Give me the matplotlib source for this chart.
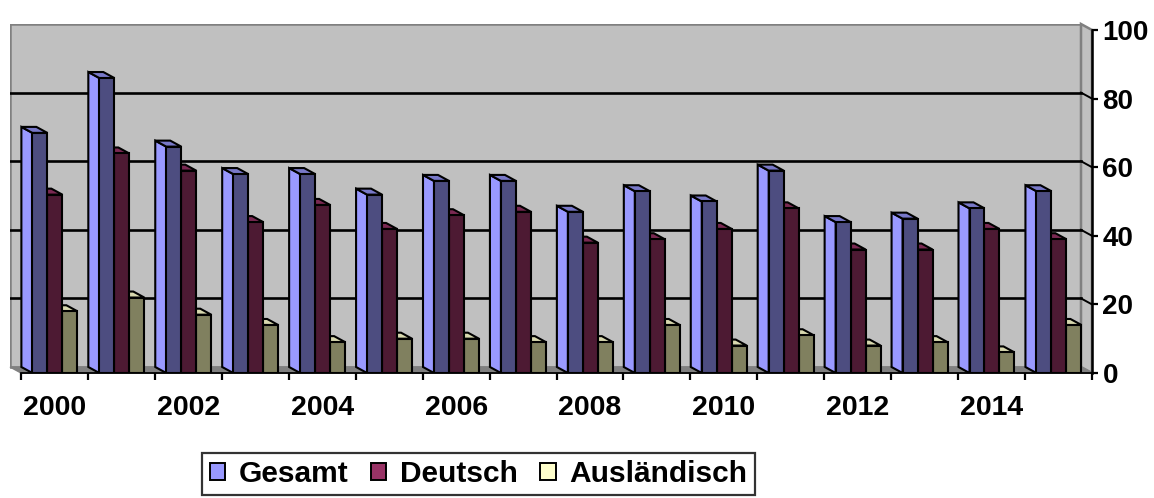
import matplotlib
matplotlib.use("Agg")
import matplotlib.pyplot as plt
from matplotlib.patches import Polygon, Patch
from matplotlib.font_manager import FontProperties

# ---- data ----
years = list(range(2000, 2016))
series_names = ["Gesamt", "Deutsch", "Ausländisch"]
gesamt = [70, 86, 66, 58, 58, 52, 56, 56, 47, 53, 50, 59, 44, 45, 48, 53]
deutsch = [52, 64, 59, 44, 49, 42, 46, 47, 38, 39, 42, 48, 36, 36, 42, 39]
auslaendisch = [18, 22, 17, 14, 9, 10, 10, 9, 9, 14, 8, 11, 8, 9, 6, 14]
y_ticks = [0, 20, 40, 60, 80, 100]
x_labels = [str(y) if y % 2 == 0 else "" for y in years]

# ---- style ----
base_cols = ["#9999FF", "#993366", "#FFFFCC"]
front_cols = ["#4D4D80", "#4D1A33", "#80805F"]
top_cols = ["#7878C8", "#7A2952", "#D8D8AE"]
side_cols = ["#9999FF", "#993366", "#FFFFCC"]

W, H, DPI = 1154, 498, 100
fig = plt.figure(figsize=(W / DPI, H / DPI), dpi=DPI)
fig.patch.set_facecolor("white")

n = len(years)
px_per_cat = (1092 - 21) / n
px_per_unit = 3.43
ddx = -11 / px_per_cat          # depth offset in data x
ddy = 6 / px_per_unit           # depth offset in data y
ymax = 100

left_px, right_px = 21 + ddx * px_per_cat, 1092
bottom_px = 373
top_px = bottom_px - (ymax + ddy) * px_per_unit
ax = fig.add_axes([left_px / W, (H - bottom_px) / H,
                   (right_px - left_px) / W, (bottom_px - top_px) / H])
ax.set_xlim(ddx, n)
ax.set_ylim(0, ymax + ddy)
ax.patch.set_visible(False)

font_bold = "Liberation Sans"
elw = 1.5

# back wall
ax.add_patch(Polygon([(ddx, ddy), (n + ddx, ddy), (n + ddx, ymax + ddy), (ddx, ymax + ddy)],
                     closed=True, facecolor="#C0C0C0", edgecolor="#808080", lw=1.8, zorder=1))
# right side wall
ax.add_patch(Polygon([(n + ddx, ddy), (n, 0), (n, ymax), (n + ddx, ymax + ddy)],
                     closed=True, facecolor="#C0C0C0", edgecolor="#808080", lw=1.8, zorder=1,
                     clip_on=False))
# floor
ax.add_patch(Polygon([(0, 0), (n, 0), (n + ddx, ddy), (ddx, ddy)],
                     closed=True, facecolor="#808080", edgecolor="#808080", lw=1.0, zorder=1.2,
                     clip_on=False))
# gridlines on back wall and side wall
for v in y_ticks[1:-1]:
    ax.plot([ddx, n + ddx], [v + ddy, v + ddy], color="black", lw=1.9, zorder=1.5)
    ax.plot([n + ddx, n], [v + ddy, v], color="black", lw=1.4, zorder=1.5, clip_on=False)

# bars
bw = 0.224
off = 0.17
all_vals = [gesamt, deutsch, auslaendisch]
xs = list(range(n))
for k in reversed(range(3)):
    z = 3 + (2 - k)
    xpos = [x + off + k * bw for x in xs]
    bars = ax.bar(xpos, all_vals[k], width=bw, align="edge", color=front_cols[k],
                  edgecolor="black", linewidth=elw, zorder=z + 0.2)
    for rect in bars:
        x0, x1 = rect.get_x(), rect.get_x() + rect.get_width()
        h = rect.get_height()
        side = Polygon([(x0, 0), (x0, h), (x0 + ddx, h + ddy), (x0 + ddx, ddy)],
                       closed=True, facecolor=side_cols[k], edgecolor="black", lw=elw, zorder=z,
                       joinstyle="miter")
        top = Polygon([(x0, h), (x1, h), (x1 + ddx, h + ddy), (x0 + ddx, h + ddy)],
                      closed=True, facecolor=top_cols[k], edgecolor="black", lw=elw, zorder=z + 0.1,
                      joinstyle="miter")
        ax.add_patch(side)
        ax.add_patch(top)

# axes / spines
for s in ["left", "top"]:
    ax.spines[s].set_visible(False)
ax.spines["right"].set_bounds(0, ymax)
ax.spines["right"].set_linewidth(1.8)
ax.spines["right"].set_zorder(10)
ax.spines["bottom"].set_linewidth(1.3)
ax.spines["bottom"].set_bounds(0, n)
ax.spines["bottom"].set_zorder(10)

ax.yaxis.tick_right()
ax.set_yticks(y_ticks)
ax.set_yticklabels([str(v) for v in y_ticks])
ax.tick_params(axis="y", direction="out", length=4.5, width=1.6, pad=3,
               labelsize=20, colors="black")
for lab in ax.get_yticklabels():
    lab.set_fontfamily(font_bold)
    lab.set_fontweight("bold")

ax.set_xticks(range(n + 1))
ax.set_xticklabels([])
ax.set_xticks([x + 0.5 for x in xs], minor=True)
ax.set_xticklabels(x_labels, minor=True)
ax.tick_params(axis="x", which="major", direction="out", length=5, width=1.6)
ax.tick_params(axis="x", which="minor", length=0, pad=16, labelsize=20.5)
for lab in ax.get_xticklabels(minor=True):
    lab.set_fontfamily(font_bold)
    lab.set_fontweight("bold")

# legend
handles = [Patch(facecolor=c, edgecolor="black", linewidth=1.4) for c in base_cols]
leg = fig.legend(handles, series_names, ncol=3, loc="center",
                 bbox_to_anchor=(478.5 / W, 1 - 474 / H),
                 prop=FontProperties(family=font_bold, weight="bold", size=21.5),
                 frameon=True, fancybox=False, edgecolor="black",
                 handlelength=0.52, handleheight=0.52, handletextpad=0.45,
                 columnspacing=0.75, borderpad=0.25, borderaxespad=0)
leg.get_frame().set_linewidth(1.6)

fig.savefig("out.png", dpi=DPI)
